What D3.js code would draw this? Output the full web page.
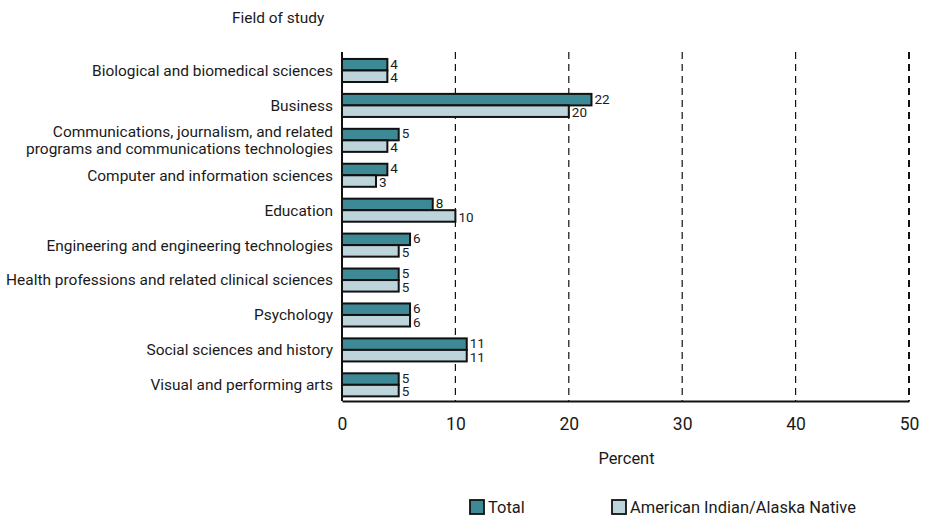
<!DOCTYPE html>
<html><head><meta charset="utf-8">
<script src="https://cdn.jsdelivr.net/npm/d3@7"></script>
<style>
body{margin:0;background:#fff;}
text{font-family:"Roboto",sans-serif;fill:#1a1a1a;}
</style></head>
<body>
<svg id="c" width="929" height="521"></svg>
<script>
const categories = [
  ["Biological and biomedical sciences"],
  ["Business"],
  ["Communications, journalism, and related","programs and communications technologies"],
  ["Computer and information sciences"],
  ["Education"],
  ["Engineering and engineering technologies"],
  ["Health professions and related clinical sciences"],
  ["Psychology"],
  ["Social sciences and history"],
  ["Visual and performing arts"]
];
const totalValues = [4,22,5,4,8,6,5,6,11,5];
const aianValues = [4,20,4,3,10,5,5,6,11,5];
const seriesNames = ["Total","American Indian/Alaska Native"];
const xTicks = [0,10,20,30,40,50];

const colors = ["#3d8a96","#bdd4da"];
const svg = d3.select("#c");
const m = {left:342, right:909, top:52, bottom:401};
const x = d3.scaleLinear().domain([0,50]).range([m.left,m.right]);
const y = d3.scaleBand().domain(d3.range(categories.length)).range([m.top,m.bottom])
  .paddingInner(0.34).paddingOuter(0.166).align(0.6);
const barH = y.bandwidth()/2;

svg.append("g").selectAll("line").data(xTicks.slice(1)).join("line")
  .attr("x1",d=>x(d)).attr("x2",d=>x(d)).attr("y1",m.top).attr("y2",m.bottom)
  .attr("stroke","#111").attr("stroke-width",d=>d===50?2:1.2).attr("stroke-dasharray","7,5");

const data = categories.map((c,i)=>({i, vals:[totalValues[i],aianValues[i]]}));
const g = svg.append("g");
data.forEach(d=>{
  d.vals.forEach((v,k)=>{
    const yy = y(d.i)+k*barH;
    g.append("rect").attr("x",x(0)).attr("y",yy).attr("width",x(v)-x(0)).attr("height",barH)
      .attr("fill",colors[k]).attr("stroke","#111").attr("stroke-width",2);
    g.append("text").attr("class","vl").attr("x",x(v)+3).attr("y",yy+barH/2+(k===0?-1:1)).attr("dy","0.36em")
      .attr("font-size",13.5).text(v);
  });
});

svg.append("line").attr("x1",m.left).attr("x2",m.left).attr("y1",m.top).attr("y2",m.bottom).attr("stroke","#111").attr("stroke-width",2);
const xa = svg.append("g").attr("transform",`translate(0,${m.bottom})`).call(d3.axisBottom(x).tickValues(xTicks).tickSize(0).tickPadding(17));
xa.select(".domain").attr("stroke","#111").attr("stroke-width",2);
xa.selectAll("text").attr("font-size",17.5).attr("font-family","Roboto,sans-serif").attr("fill","#1a1a1a");

const labelG = svg.append("g");
data.forEach(d=>{
  const lines = categories[d.i];
  const cy = y(d.i)+y.bandwidth()/2;
  const lh = 17;
  lines.forEach((t,j)=>{
    labelG.append("text").attr("x",m.left-9).attr("y",cy+(j-(lines.length-1)/2)*lh).attr("dy","0.35em")
      .attr("text-anchor","end").attr("font-size",15.5).text(t);
  });
});
let maxW = 0; labelG.selectAll("text").each(function(){maxW=Math.max(maxW,this.getComputedTextLength());});
const sx = 327/maxW;
function condense(sel, f){
  sel.each(function(){
    const t=d3.select(this); const xx=+t.attr("x")||0;
    t.attr("transform",`translate(${xx},0) scale(${f},1) translate(${-xx},0)`);
  });
}
condense(labelG.selectAll("text"), sx);

const fos = svg.append("text").attr("x",232).attr("y",18).attr("dy","0.35em").attr("font-size",15.5).text("Field of study");
condense(fos, sx);
const pct = svg.append("text").attr("x",(m.left+m.right)/2+1).attr("y",458).attr("dy","0.35em").attr("text-anchor","middle").attr("font-size",16.5).text("Percent");
condense(pct, sx);

const legX = [470,612];
seriesNames.forEach((n,k)=>{
  svg.append("rect").attr("x",legX[k]).attr("y",500).attr("width",14).attr("height",14)
    .attr("fill",colors[k]).attr("stroke","#111").attr("stroke-width",1.8);
  const t = svg.append("text").attr("x",legX[k]+18).attr("y",507).attr("dy","0.36em").attr("font-size",16.5).text(n);
  condense(t, sx);
});
</script>
</body></html>
